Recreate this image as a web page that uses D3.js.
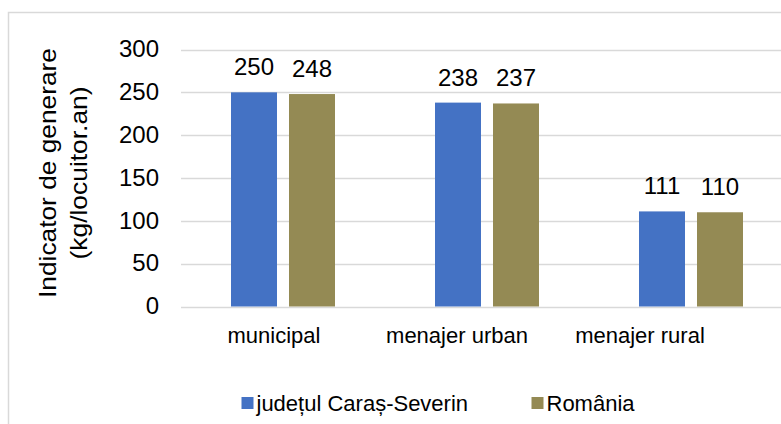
<!DOCTYPE html>
<html><head><meta charset="utf-8">
<script src="https://cdn.jsdelivr.net/npm/d3@7"></script>
<style>body{margin:0;background:#fff;} svg{display:block;font-family:"Liberation Sans",Arial,sans-serif;}</style>
</head><body>
<svg id="c" width="781" height="424"></svg>
<script>
const categories = ["municipal", "menajer urban", "menajer rural"];
const seriesNames = ["județul Caraș-Severin", "România"];
const judetValues = [250, 238, 111];
const romaniaValues = [248, 237, 110];
const yTicks = [0, 50, 100, 150, 200, 250, 300];
const yTitle = ["Indicator de generare", "(kg/locuitor.an)"];
const colors = ["#4472C4", "#948A54"];

const FONT = "Liberation Sans, Arial, sans-serif";
const svg = d3.select("#c");
// outer border (cropped at right and bottom)
svg.append("rect").attr("x", 8.5).attr("y", 12.5).attr("width", 790).attr("height", 430)
  .attr("fill", "none").attr("stroke", "#d9d9d9").attr("stroke-width", 1.5);

const y = d3.scaleLinear().domain([0, 300]).range([306.5, 49.5]);
const x0 = d3.scaleBand().domain(categories).range([181, 793]).padding(0);
const x1 = d3.scaleBand().domain(seriesNames).range([0, 104]).paddingInner(12/58).paddingOuter(0);
const xLabel = d3.scaleBand().domain(categories).range([182.5, 731.5]);

// gridlines
svg.append("g").selectAll("line").data(yTicks).join("line")
  .attr("x1", 181).attr("x2", 781)
  .attr("y1", d => Math.round(y(d)) + 0.5).attr("y2", d => Math.round(y(d)) + 0.5)
  .attr("stroke", "#d9d9d9").attr("stroke-width", 1.5);

// y axis labels
const yAxis = d3.axisLeft(y).tickValues(yTicks).tickSize(0).tickPadding(0);
const ga = svg.append("g").attr("transform", "translate(159,0)").call(yAxis);
ga.select(".domain").remove();
ga.selectAll("text").attr("font-size", 24).attr("fill", "#000").attr("font-family", FONT).attr("dy", "0.3em");

const series = [judetValues, romaniaValues];
const groups = svg.append("g").selectAll("g").data(categories).join("g")
  .attr("transform", d => `translate(${x0(d) + x0.bandwidth()/2 - 52},0)`);

groups.each(function(cat, i) {
  const g = d3.select(this);
  seriesNames.forEach((s, j) => {
    const v = series[j][i];
    g.append("rect").attr("x", x1(s)).attr("width", x1.bandwidth())
      .attr("y", y(v)).attr("height", y(0) - y(v)).attr("fill", colors[j]);
    g.append("text").attr("x", x1(s) + x1.bandwidth()/2).attr("y", y(v) - 17)
      .attr("text-anchor", "middle").attr("font-size", 24).attr("fill", "#000").text(v);
  });
});

// category labels
svg.append("g").selectAll("text").data(categories).join("text")
  .attr("x", d => xLabel(d) + xLabel.bandwidth()/2).attr("y", 343)
  .attr("text-anchor", "middle").attr("font-size", 22).attr("fill", "#000").text(d => d);

// y title
const tl = svg.append("g").attr("transform", "translate(0,173) rotate(-90)");
const titleBase = [56, 87];
const titleLen = [250, 173];
tl.selectAll("text").data(yTitle).join("text")
  .attr("x", 0).attr("y", (d, i) => titleBase[i])
  .attr("text-anchor", "middle").attr("font-size", 24).attr("fill", "#000")
  .attr("textLength", (d, i) => titleLen[i]).attr("lengthAdjust", "spacingAndGlyphs")
  .text(d => d);

// legend
const legendX = [241.5, 531.5];
const lg = svg.append("g").selectAll("g").data(seriesNames).join("g")
  .attr("transform", (d, i) => `translate(${legendX[i]},397)`);
lg.append("rect").attr("width", 12).attr("height", 12).attr("fill", (d, i) => colors[i]);
lg.append("text").attr("x", 15).attr("y", 14).attr("font-size", 22).attr("fill", "#000").text(d => d);
</script>
</body></html>
